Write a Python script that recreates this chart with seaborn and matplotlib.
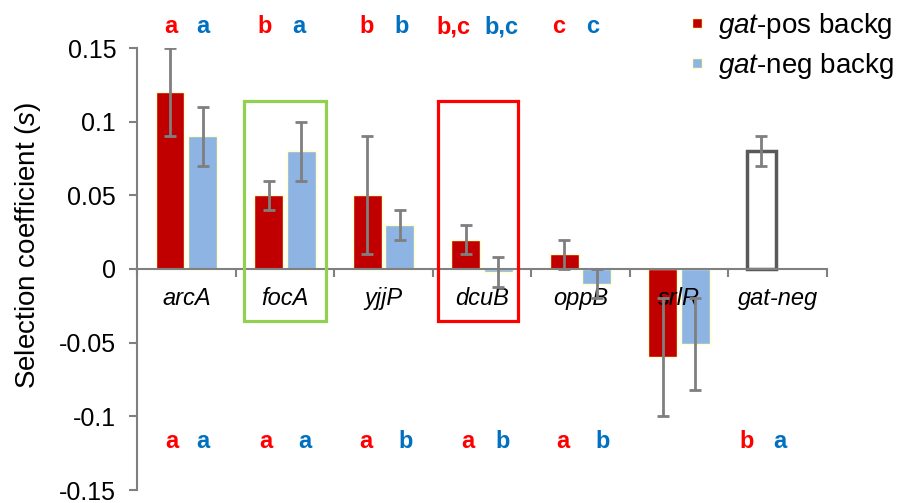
import numpy as np
import pandas as pd
import matplotlib
matplotlib.use("Agg")
import matplotlib.pyplot as plt
import seaborn as sns
from matplotlib.patches import Rectangle
from matplotlib.lines import Line2D

# ---------------- data ----------------
genes = ["arcA", "focA", "yjjP", "dcuB", "oppB", "srlR", "gat-neg"]
pos_s = [0.12, 0.05, 0.05, 0.02, 0.01, -0.06, 0.08]
pos_err = [0.03, 0.01, 0.04, 0.01, 0.01, 0.04, 0.01]
neg_genes = ["arcA", "focA", "yjjP", "dcuB", "oppB", "srlR"]
neg_s = [0.09, 0.08, 0.03, -0.002, -0.01, -0.051]
neg_err = [0.02, 0.02, 0.01, 0.01, 0.01, 0.031]

top_pos = ["a", "b", "b", "b,c", "c", "", ""]
top_neg = ["a", "a", "b", "b,c", "c", "", ""]
bot_pos = ["a", "a", "a", "a", "a", "", "b"]
bot_neg = ["a", "a", "b", "b", "b", "", "a"]

yticks = [-0.15, -0.1, -0.05, 0, 0.05, 0.1, 0.15]
ytick_labels = ["-0.15", "-0.1", "-0.05", "0", "0.05", "0.1", "0.15"]
legend_labels = ["$\\it{gat}$-pos backg", "$\\it{gat}$-neg backg"]

# layout of letter annotations (offsets from category centre, category units)
top_pos_dx = [-0.16, -0.21, -0.17, -0.29, -0.22, 0, 0]
top_neg_dx = [0.17, 0.14, 0.18, 0.20, 0.12, 0, 0]
bot_pos_dx = [-0.15, -0.19, -0.18, -0.14, -0.18, 0, -0.32]
bot_neg_dx = [0.17, 0.20, 0.23, 0.21, 0.22, 0, 0.02]

RED = "#C00000"
BLUE = "#8DB4E2"
GRAY = "#808080"
ERR = "#7F7F7F"

df = pd.DataFrame({
    "gene": genes + neg_genes,
    "s": pos_s + neg_s,
    "bg": ["pos"] * len(genes) + ["neg"] * len(neg_genes),
})
err_map = {("pos", g): e for g, e in zip(genes, pos_err)}
err_map.update({("neg", g): e for g, e in zip(neg_genes, neg_err)})

sns.set_theme(style="white")
plt.rcParams["font.family"] = ["Liberation Sans", "DejaVu Sans"]
plt.rcParams["mathtext.fontset"] = "custom"
plt.rcParams["mathtext.rm"] = "Liberation Sans"
plt.rcParams["mathtext.it"] = "Liberation Sans:italic"
plt.rcParams["text.color"] = "black"
plt.rcParams["axes.labelcolor"] = "black"
plt.rcParams["xtick.labelcolor"] = "black"
plt.rcParams["ytick.labelcolor"] = "black"

fig = plt.figure(figsize=(9.01, 5.03), dpi=100)
ax = fig.add_axes([137 / 901, 13 / 503, 690 / 901, 442 / 503])

sns.barplot(data=df, x="gene", y="s", hue="bg", order=genes,
            hue_order=["pos", "neg"], palette={"pos": RED, "neg": BLUE},
            saturation=1, width=0.66, gap=0.11, errorbar=None,
            edgecolor="#FFFFC8", linewidth=1.0, ax=ax, legend=False,
            zorder=1)

levels = ["pos", "neg"]
xs, ys, es = [], [], []
for lvl, cont in zip(levels, ax.containers):
    for bar in cont:
        xc = bar.get_x() + bar.get_width() / 2
        idx = int(round(xc))
        g = genes[idx]
        h = bar.get_height()
        if np.isnan(h):
            continue
        if lvl == "pos" and g == "gat-neg":
            bar.set_facecolor("white")
            bar.set_edgecolor("#595959")
            bar.set_linewidth(2.5)
        xs.append(xc)
        ys.append(h)
        es.append(err_map[(lvl, g)])

ax.errorbar(xs, ys, yerr=es, fmt="none", ecolor=ERR, elinewidth=2,
            capsize=4, capthick=2, zorder=3)

ax.set_axisbelow(False)
ax.set_xlim(-0.5, 6.5)
ax.set_ylim(-0.15, 0.15)
for sp in ["top", "right"]:
    ax.spines[sp].set_visible(False)
ax.spines["bottom"].set_position(("data", 0))
for sp in ["bottom", "left"]:
    ax.spines[sp].set_color(GRAY)
    ax.spines[sp].set_linewidth(1.5)

ax.set_xticks(np.arange(-0.5, 7.0, 1.0))
ax.set_xticklabels([])
ax.set_xticks(np.arange(len(genes)), minor=True)
ax.set_xticklabels(genes, minor=True, fontstyle="italic", fontsize=17)
ax.tick_params(axis="x", which="major", direction="out", length=6,
               width=1.5, color=GRAY, bottom=True)
ax.tick_params(axis="x", which="minor", length=0, pad=13, labelsize=17)
ax.set_xlabel("")

ax.set_yticks(yticks, ytick_labels)
ax.tick_params(axis="y", direction="out", length=6, width=1.5, color=GRAY,
               labelsize=18, pad=9, left=True)
ax.set_ylabel("Selection coefficient ($\\it{s}$)", fontsize=20)
ax.yaxis.set_label_coords((43 - 137) / 690, (490 - 245) / 442)

# highlight boxes
ax.add_patch(Rectangle((0.585, -0.0353), 0.832, 0.1494, fill=False,
                       edgecolor="#92D050", linewidth=2.3, clip_on=False, zorder=4))
ax.add_patch(Rectangle((2.553, -0.0353), 0.811, 0.1494, fill=False,
                       edgecolor="#FF0000", linewidth=2.3, clip_on=False, zorder=4))

# significance letters
for i in range(len(genes)):
    for txt, dx, col, yv in [(top_pos[i], top_pos_dx[i], "#FF0000", 0.160),
                             (top_neg[i], top_neg_dx[i], "#0070C0", 0.160),
                             (bot_pos[i], bot_pos_dx[i], "#FF0000", -0.1215),
                             (bot_neg[i], bot_neg_dx[i], "#0070C0", -0.1215)]:
        if txt:
            ax.text(i + dx, yv, txt, color=col, fontsize=17, fontweight="bold",
                    ha="center", va="baseline", clip_on=False)

handles = [Line2D([], [], marker="s", linestyle="none", markersize=7,
                  markerfacecolor=c, markeredgecolor="#FFFFC8")
           for c in [RED, BLUE]]
fig.legend(handles, legend_labels, loc="upper left",
           bbox_to_anchor=(672 / 901, 1.0), frameon=False, fontsize=20,
           handletextpad=0.25, labelspacing=0.35, handlelength=1.0,
           borderaxespad=0.0)

fig.savefig("out.png", dpi=100)
